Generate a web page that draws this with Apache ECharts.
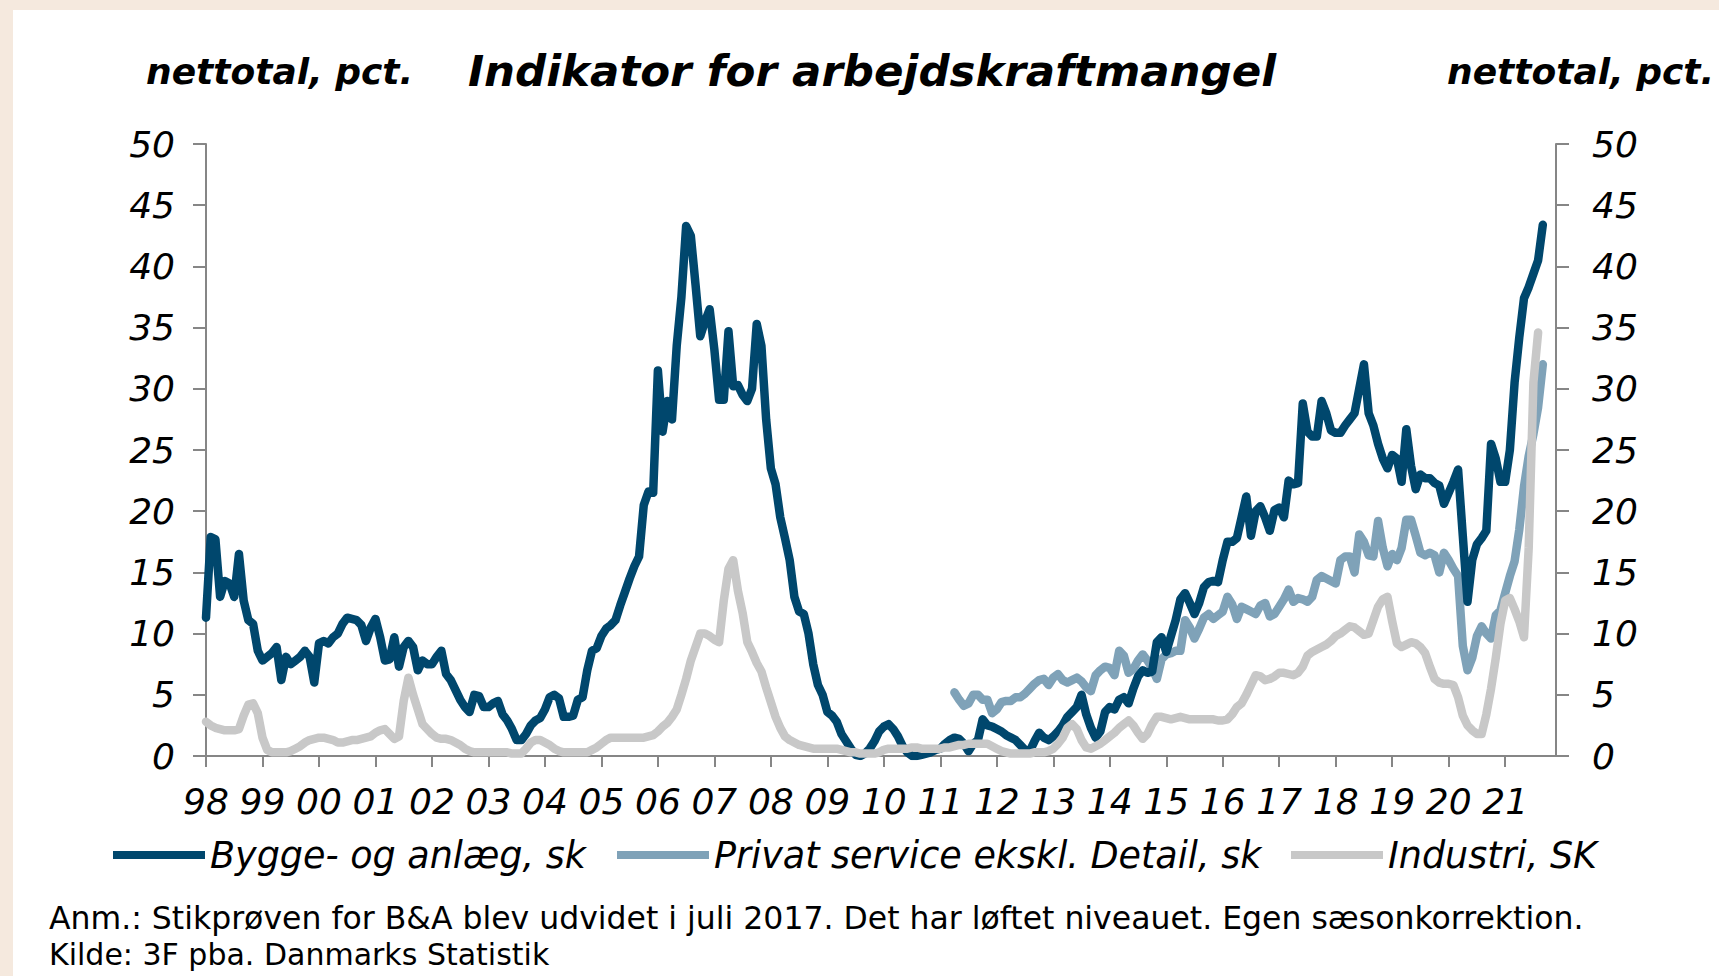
<!DOCTYPE html>
<html><head><meta charset="utf-8">
<script src="https://cdn.jsdelivr.net/npm/echarts@6/dist/echarts.min.js"></script>
<style>html,body{margin:0;padding:0;background:#F5E9DE}#c{width:1719px;height:976px}</style>
</head><body><div id="c"></div><script>
// Tick labels (years shown as two digits)
const yearTicks = [1998,1999,2000,2001,2002,2003,2004,2005,2006,2007,2008,2009,2010,2011,2012,2013,2014,2015,2016,2017,2018,2019,2020,2021];
const seriesNames = ['Bygge- og anlæg, sk', 'Privat service ekskl. Detail, sk', 'Industri, SK'];

// Bygge- og anlæg, monthly from Jan 1998
const byggeStart = [1998, 1];
const bygge = [
11.3,17.9,17.7,13.0,14.3,14.1,13.0,16.5,12.7,11.1,10.8,8.6,
7.8,8.1,8.4,8.9,6.2,8.1,7.5,7.8,8.1,8.6,8.1,6.0,
9.2,9.4,9.2,9.7,10.0,10.8,11.3,11.2,11.1,10.7,9.4,10.5,
11.2,9.7,7.8,7.9,9.7,7.3,8.9,9.4,8.9,7.0,7.8,7.5,
7.5,8.1,8.6,6.7,6.2,5.4,4.6,4.0,3.6,5.0,4.9,4.0,
4.0,4.3,4.5,3.4,2.9,2.2,1.3,1.3,1.8,2.5,2.9,3.1,
3.8,4.8,5.0,4.7,3.2,3.2,3.3,4.6,4.8,7.0,8.6,8.8,
9.8,10.4,10.7,11.1,12.3,13.4,14.5,15.5,16.3,20.5,21.6,21.5,
31.5,26.5,29.0,27.5,33.5,37.5,43.3,42.5,38.5,34.3,35.5,36.5,
33.2,29.1,29.1,34.7,30.2,30.3,29.5,29.0,30.0,35.3,33.5,27.5,
23.5,22.2,19.5,17.8,16.0,13.0,11.8,11.6,10.0,7.5,5.8,5.0,
3.6,3.3,2.8,1.8,1.2,0.6,0.1,0.0,0.2,0.6,1.2,2.0,
2.4,2.6,2.2,1.6,0.8,0.3,0.0,0.0,0.1,0.2,0.3,0.5,
0.6,1.0,1.3,1.5,1.4,1.0,0.4,1.0,1.3,3.0,2.5,2.4,
2.2,2.0,1.7,1.5,1.3,0.9,0.5,0.4,1.2,1.9,1.5,1.3,
1.6,2.0,2.5,3.2,3.6,4.0,5.0,3.4,2.3,1.5,2.0,3.6,
4.0,3.8,4.6,4.8,4.3,5.5,6.5,7.0,6.8,6.9,9.3,9.7,
8.5,9.8,11.1,12.8,13.3,12.5,11.6,12.5,13.8,14.2,14.3,14.2,
16.0,17.5,17.5,17.8,19.5,21.2,18.0,20.0,20.4,19.5,18.4,20.1,
20.3,19.5,22.5,22.2,22.3,28.8,26.5,26.1,26.1,29.0,28.0,26.6,
26.4,26.4,27.0,27.5,28.0,30.0,32.0,28.0,27.0,25.5,24.3,23.5,
24.6,24.3,22.4,26.7,23.7,21.8,23.0,22.7,22.7,22.3,22.1,20.6,
21.5,22.4,23.4,18.0,12.6,16.0,17.3,17.8,18.4,25.5,24.3,22.4,
22.4,25.0,30.5,34.2,37.4,38.3,39.4,40.5,43.4
];

// Privat service ekskl. Detail, monthly from Apr 2011
const privatStart = [2011, 4];
const privat = [
5.2,4.6,4.1,4.3,5.0,5.0,4.6,4.6,3.5,
3.8,4.4,4.5,4.5,4.8,4.8,5.1,5.5,5.9,6.2,6.3,5.8,
6.4,6.7,6.2,6.0,6.2,6.4,6.1,5.6,5.3,6.6,7.0,7.3,
7.2,6.6,8.6,8.2,6.8,7.1,7.8,8.3,7.8,7.2,6.3,7.9,
8.3,8.4,8.6,8.6,11.1,10.5,9.6,10.4,11.3,11.6,11.2,11.5,
11.8,13.0,12.4,11.2,12.2,12.0,11.8,11.6,12.3,12.5,11.4,11.6,
12.2,12.8,13.6,12.6,12.9,12.8,12.6,13.0,14.4,14.7,14.5,14.3,
14.1,16.0,16.3,16.3,15.0,18.1,17.5,16.4,16.3,19.2,17.0,15.5,
16.5,16.0,17.0,19.3,19.3,18.0,16.6,16.4,16.6,16.4,15.0,16.6,
16.0,15.3,14.7,9.0,7.0,8.0,9.8,10.6,10.0,9.6,11.5,11.9,
13.3,14.7,15.9,18.5,22.0,24.5,26.3,28.5,32.0
];

// Industri, monthly from Jan 1998
const industriStart = [1998, 1];
const industri = [
2.8,2.5,2.3,2.2,2.1,2.1,2.1,2.2,3.3,4.2,4.3,3.5,
1.5,0.5,0.3,0.3,0.3,0.3,0.4,0.6,0.8,1.1,1.3,1.4,
1.5,1.5,1.4,1.3,1.1,1.1,1.2,1.3,1.3,1.4,1.5,1.6,
1.9,2.1,2.2,1.8,1.4,1.6,4.5,6.4,5.0,3.8,2.6,2.2,
1.8,1.5,1.4,1.4,1.3,1.1,0.9,0.6,0.4,0.3,0.3,0.3,
0.3,0.3,0.3,0.3,0.3,0.2,0.2,0.2,0.6,1.1,1.3,1.3,
1.1,0.9,0.6,0.4,0.3,0.3,0.3,0.3,0.3,0.3,0.5,0.7,
1.0,1.3,1.5,1.5,1.5,1.5,1.5,1.5,1.5,1.5,1.6,1.7,
2.0,2.4,2.7,3.2,3.8,5.0,6.3,7.8,8.9,10.0,10.0,9.8,
9.5,9.3,12.7,15.3,16.0,13.5,11.7,9.3,8.5,7.6,6.9,5.6,
4.4,3.2,2.3,1.6,1.3,1.1,0.9,0.8,0.7,0.6,0.6,0.6,
0.6,0.6,0.6,0.5,0.4,0.3,0.3,0.2,0.2,0.2,0.2,0.3,
0.5,0.6,0.6,0.6,0.6,0.6,0.7,0.7,0.6,0.6,0.6,0.6,
0.6,0.7,0.7,0.8,0.9,0.9,1.0,1.0,1.0,1.0,1.0,0.8,
0.6,0.4,0.3,0.2,0.2,0.2,0.2,0.2,0.3,0.3,0.3,0.4,
0.6,1.0,1.5,2.3,2.6,2.2,1.3,0.7,0.6,0.8,1.0,1.3,
1.6,1.9,2.3,2.6,2.9,2.5,1.9,1.4,1.8,2.6,3.2,3.2,
3.1,3.0,3.1,3.2,3.1,3.0,3.0,3.0,3.0,3.0,3.0,2.9,
2.9,3.0,3.4,4.0,4.3,5.0,5.8,6.6,6.5,6.2,6.3,6.5,
6.8,6.8,6.7,6.6,6.8,7.3,8.2,8.5,8.7,8.9,9.1,9.4,
9.8,10.0,10.3,10.6,10.5,10.2,9.9,10.0,11.1,12.2,12.8,13.0,
11.0,9.2,8.9,9.1,9.3,9.2,8.9,8.4,7.3,6.3,6.0,5.9,
5.9,5.8,4.8,3.3,2.5,2.1,1.8,1.8,3.4,5.5,8.0,10.8,
12.7,12.9,12.0,11.0,9.7,17.0,30.5,34.6
];

function toPoints(arr, start) {
  return arr.map((v, i) => [start[0] + (start[1] - 1 + i) / 12, v]);
}

const FONT = 'DejaVu Sans';
const axisGrey = '#868686';
const cBygge = '#00476D', cPrivat = '#7FA2B8', cIndustri = '#C8C8C8';

const chart = echarts.init(document.getElementById('c'), null, {renderer: 'svg'});

const yAxisBase = (pos, margin) => ({
  type: 'value', min: 0, max: 50, interval: 5, position: pos,
  axisLine: {show: true, lineStyle: {color: axisGrey, width: 2}},
  axisTick: {show: true, length: 13, lineStyle: {color: axisGrey, width: 2}},
  splitLine: {show: false},
  axisLabel: {margin: margin, fontSize: 36, fontStyle: 'italic', fontFamily: FONT, color: '#000'}
});

const legendBase = (name, left) => ({
  data: [name], left: left, top: 829, orient: 'horizontal',
  itemWidth: 92, itemHeight: 8, icon: 'rect', itemGap: 0,
  textStyle: {fontSize: 36.5, fontStyle: 'italic', fontFamily: FONT, color: '#000', lineHeight: 42},
  selectedMode: false
});

const lineBase = (name, data, color, z) => ({
  name: name, type: 'line', data: data, showSymbol: false, symbol: 'none',
  lineStyle: {width: 8.5, color: color, join: 'round', cap: 'round'},
  itemStyle: {color: color}, color: color, z: z, animation: false
});

chart.setOption({
  animation: false,
  backgroundColor: '#F5E9DE',
  grid: {left: 206, right: 163, top: 144, bottom: 220, containLabel: false},
  xAxis: {
    type: 'value', min: 1998, max: 2021.9, position: 'bottom',
    axisLine: {show: true, onZero: false, lineStyle: {color: axisGrey, width: 2}},
    axisTick: {show: true, length: 11, customValues: yearTicks, lineStyle: {color: axisGrey, width: 2}},
    splitLine: {show: false},
    axisLabel: {
      customValues: yearTicks, margin: 27, fontSize: 36, fontStyle: 'italic', fontFamily: FONT, color: '#000',
      formatter: v => String(Math.round(v) % 100).padStart(2, '0')
    }
  },
  yAxis: [yAxisBase('left', 31), yAxisBase('right', 36)],
  legend: [
    legendBase(seriesNames[0], 108),
    legendBase(seriesNames[1], 612),
    legendBase(seriesNames[2], 1286)
  ],
  series: [
    lineBase(seriesNames[1], toPoints(privat, privatStart), cPrivat, 2),
    lineBase(seriesNames[0], toPoints(bygge, byggeStart), cBygge, 3),
    lineBase(seriesNames[2], toPoints(industri, industriStart), cIndustri, 4)
  ],
  graphic: [
    {type: 'rect', z: -10, silent: true, shape: {x: 13, y: 10, width: 1706, height: 966}, style: {fill: '#FFFFFF'}},
    {type: 'text', x: 146, y: 71, style: {text: 'nettotal, pct.', font: 'italic bold 36px "DejaVu Sans"', fill: '#000', align: 'left', verticalAlign: 'middle', textAlign: 'left', textVerticalAlign: 'middle'}},
    {type: 'text', x: 872, y: 71, style: {text: 'Indikator for arbejdskraftmangel', font: 'italic bold 43.5px "DejaVu Sans"', fill: '#000', align: 'center', verticalAlign: 'middle', textAlign: 'center', textVerticalAlign: 'middle'}},
    {type: 'text', x: 1447, y: 71, style: {text: 'nettotal, pct.', font: 'italic bold 36px "DejaVu Sans"', fill: '#000', align: 'left', verticalAlign: 'middle', textAlign: 'left', textVerticalAlign: 'middle'}},
    {type: 'text', x: 49, y: 918, style: {text: 'Anm.: Stikprøven for B&A blev udvidet i juli 2017. Det har løftet niveauet. Egen sæsonkorrektion.', font: '31.5px "DejaVu Sans"', fill: '#000', align: 'left', verticalAlign: 'middle', textAlign: 'left', textVerticalAlign: 'middle'}},
    {type: 'text', x: 49, y: 954, style: {text: 'Kilde: 3F pba. Danmarks Statistik', font: '30px "DejaVu Sans"', fill: '#000', align: 'left', verticalAlign: 'middle', textAlign: 'left', textVerticalAlign: 'middle'}}
  ]
});
</script></body></html>
